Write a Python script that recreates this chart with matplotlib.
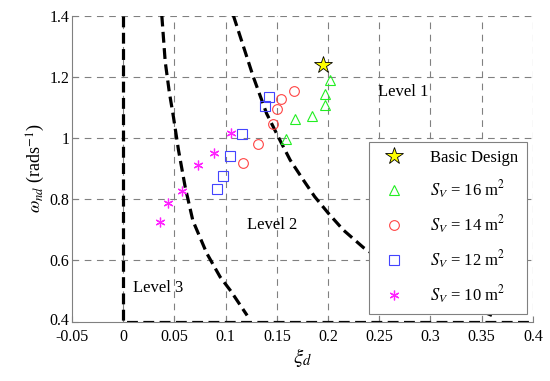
import matplotlib.pyplot as plt
import matplotlib.transforms as mtransforms
import numpy as np

plt.rcParams['font.family'] = ['Liberation Serif', 'DejaVu Serif']
plt.rcParams['mathtext.fontset'] = 'stix'

# boundary curves between the levels
b23_x = [0.0377, 0.041, 0.045, 0.049, 0.054, 0.0605, 0.068, 0.0816, 0.0946, 0.105, 0.121]
b23_y = [1.4, 1.25, 1.15, 1.07, 0.96, 0.84, 0.73, 0.623, 0.546, 0.50, 0.42]
b12_x = [0.1076, 0.127, 0.140, 0.153, 0.163, 0.176, 0.187, 0.2003, 0.215, 0.2345, 0.27, 0.31, 0.36]
b12_y = [1.4, 1.2, 1.08, 0.993, 0.928, 0.862, 0.808, 0.754, 0.699, 0.642, 0.56, 0.49, 0.42]
b3_x = [0, 0, 0.4]
b3_y = [1.4, 0.4, 0.4]

# designs
basic_x = [0.195]
basic_y = [1.238]
s16_x = [0.2017, 0.197, 0.197, 0.1844, 0.168, 0.159]
s16_y = [1.191, 1.143, 1.107, 1.071, 1.061, 0.997]
s14_x = [0.1668, 0.1538, 0.1505, 0.146, 0.132, 0.1168]
s14_y = [1.153, 1.126, 1.094, 1.045, 0.982, 0.919]
s12_x = [0.1424, 0.1389, 0.1161, 0.1044, 0.0972, 0.0914]
s12_y = [1.134, 1.105, 1.014, 0.941, 0.876, 0.834]
s10_x = [0.1054, 0.0891, 0.0729, 0.0576, 0.0439, 0.0358]
s10_y = [1.017, 0.950, 0.912, 0.826, 0.788, 0.726]

xticks = [-0.05, 0, 0.05, 0.1, 0.15, 0.2, 0.25, 0.3, 0.35, 0.4]
xtick_labels = ['-0.05', '0', '0.05', '0.1', '0.15', '0.2', '0.25', '0.3', '0.35', '0.4']
yticks = [0.4, 0.6, 0.8, 1.0, 1.2, 1.4]
ytick_labels = ['0.4', '0.6', '0.8', '1', '1.2', '1.4']

fig = plt.figure(figsize=(5.5, 3.81), dpi=100)
ax = fig.add_axes([0.1309, 0.156, 0.838, 0.803])

for xv in xticks[1:]:
    ax.axvline(xv, color='#808080', lw=0.8, dashes=(6, 5), zorder=0)
for yv in yticks[1:]:
    ax.axhline(yv, color='#808080', lw=0.8, dashes=(6, 5), zorder=0)

dash = dict(color='black', lw=2.3, dashes=(3.4, 1.7), zorder=2)
ax.plot(b3_x, b3_y, **dash)
ax.plot(b23_x, b23_y, **dash)
ax.plot(b12_x, b12_y, **dash)

ax.plot(basic_x, basic_y, linestyle='none', marker='*', ms=13, mfc='yellow',
        mec='black', mew=0.6, label='Basic Design', zorder=4)
ax.plot(s16_x, s16_y, linestyle='none', marker='^', ms=7, mfc='none',
        mec='#22ee22', mew=0.8, label=r'$S_V$ = 16 m$^2$', zorder=3)
ax.plot(s14_x, s14_y, linestyle='none', marker='o', ms=7, mfc='none',
        mec='#ff4444', mew=0.8, label=r'$S_V$ = 14 m$^2$', zorder=3)
ax.plot(s12_x, s12_y, linestyle='none', marker='s', ms=7, mfc='none',
        mec='#4444ff', mew=0.8, label=r'$S_V$ = 12 m$^2$', zorder=3)
ax.plot(s10_x, s10_y, linestyle='none', marker=(6, 2, 0), ms=7,
        mec='#ff22ff', mew=0.9, label=r'$S_V$ = 10 m$^2$', zorder=3)

ax.text(0.249, 1.15, 'Level 1', fontsize=12, va='center')
ax.text(0.121, 0.715, 'Level 2', fontsize=12, va='center')
ax.text(0.01, 0.51, 'Level 3', fontsize=12, va='center')

ax.set_xlim(-0.05, 0.4)
ax.set_ylim(0.4, 1.4)
ax.set_xticks(xticks)
ax.set_xticklabels(xtick_labels)
ax.set_yticks(yticks)
ax.set_yticklabels(ytick_labels)
ax.tick_params(direction='in', length=4, color='#808080', labelsize=11.5, pad=2)
ax.tick_params(axis='x', pad=5)
# nudge the bottom y label up a bit so it clears "-0.05"
lab = ax.yaxis.get_major_ticks()[0].label1
lab.set_transform(lab.get_transform() +
                  mtransforms.ScaledTranslation(0, 3 / 100, fig.dpi_scale_trans))
for s in ['top', 'right']:
    ax.spines[s].set_visible(False)
for s in ['left', 'bottom']:
    ax.spines[s].set_color('#808080')
    ax.spines[s].set_linewidth(0.8)

ax.set_xlabel(r'$\xi_d$', fontsize=15, labelpad=1)
ax.set_ylabel(r'$\omega_{nd}$ (rads$^{-1}$)', fontsize=13, labelpad=2)

leg = ax.legend(loc='lower right', bbox_to_anchor=(0.987, 0.025), borderaxespad=0,
                fontsize=12, labelspacing=0.75, handletextpad=1.2, borderpad=0.5,
                fancybox=False, framealpha=1, edgecolor='#808080')
leg.get_frame().set_linewidth(0.8)
leg.set_zorder(5)

fig.savefig('out.png', dpi=100)
